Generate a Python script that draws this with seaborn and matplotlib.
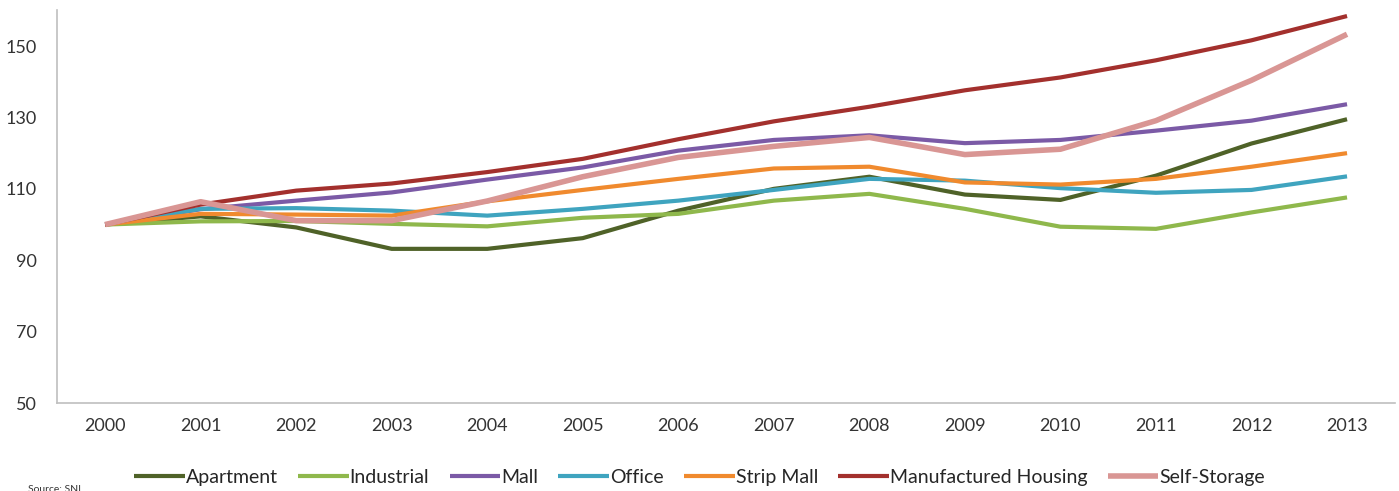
import numpy as np
import pandas as pd
import matplotlib
matplotlib.use("Agg")
import matplotlib.pyplot as plt
import seaborn as sns

#----------------------------------
# Data (index, 2000 = 100)
#----------------------------------
years = [2000, 2001, 2002, 2003, 2004, 2005, 2006, 2007, 2008, 2009, 2010, 2011, 2012, 2013]

apartment = [100, 102.3, 99.2, 93.2, 93.2, 96.2, 103.9, 110.0, 113.4, 108.4, 106.9, 113.7, 122.7, 129.5]
industrial = [100, 100.9, 101.0, 100.2, 99.5, 101.9, 103.0, 106.7, 108.6, 104.4, 99.4, 98.8, 103.4, 107.6]
mall = [100, 104.3, 106.7, 109.0, 112.6, 116.0, 120.7, 123.7, 125.0, 122.8, 123.7, 126.3, 129.1, 133.7]
office = [100, 104.4, 104.6, 103.9, 102.5, 104.4, 106.7, 109.7, 112.8, 112.3, 110.2, 108.9, 109.7, 113.5]
strip_mall = [100, 103.0, 102.8, 102.5, 106.5, 109.7, 112.8, 115.7, 116.2, 111.8, 111.2, 112.8, 116.2, 120.0]
manufactured = [100, 105.6, 109.5, 111.5, 114.7, 118.4, 123.9, 128.9, 133.0, 137.6, 141.2, 146.0, 151.6, 158.4]
self_storage = [100, 106.4, 101.1, 101.1, 106.6, 113.4, 118.8, 121.9, 124.4, 119.6, 121.1, 129.1, 140.4, 153.3]

series_names = ["Apartment", "Industrial", "Mall", "Office", "Strip Mall",
                "Manufactured Housing", "Self-Storage"]
series_values = [apartment, industrial, mall, office, strip_mall, manufactured, self_storage]
colors = ["#4F6228", "#8FB84C", "#7B5AA6", "#3FA4BF", "#F08A2E", "#A3302D", "#D99694"]

rows = []
for name, vals in zip(series_names, series_values):
    for i, v in enumerate(vals):
        rows.append({"pos": i, "year": years[i], "type": name, "value": v})
df = pd.DataFrame(rows)

#----------------------------------
# Plot
#----------------------------------
sns.set_style("white")
plt.rcParams['font.family'] = ['Lato', 'DejaVu Sans']

fig = plt.figure(figsize=(13.99, 4.91), dpi=100)
ax = fig.add_axes([0.041, 0.179, 0.956, 0.800])

sns.lineplot(data=df, x="pos", y="value", hue="type", hue_order=series_names,
             palette=dict(zip(series_names, colors)), linewidth=3.0,
             legend=False, ax=ax)

# self-storage line is drawn a bit heavier
for line, name in zip(ax.get_lines(), series_names):
    if name == "Self-Storage":
        line.set_linewidth(4.0)
    line.set_solid_capstyle("butt")

ax.set_xlim(-0.5, len(years) - 0.5)
ax.set_ylim(50, 160)
ax.set_xticks(range(len(years)))
ax.set_xticklabels([str(y) for y in years])
ax.set_yticks([50, 70, 90, 110, 130, 150])
ax.set_xlabel("")
ax.set_ylabel("")
ax.tick_params(axis="both", length=0, labelsize=13, colors="#333333")
ax.tick_params(axis="x", pad=11)
ax.tick_params(axis="y", pad=15)

for s in ["top", "right"]:
    ax.spines[s].set_visible(False)
for s in ["left", "bottom"]:
    ax.spines[s].set_color("#BFBFBF")
    ax.spines[s].set_linewidth(1.2)

handles = ax.get_lines()[:len(series_names)]
fig.legend(handles, series_names, loc="center", bbox_to_anchor=(0.5, 0.027),
           ncol=7, frameon=False, fontsize=14, handlelength=2.6,
           handletextpad=0.05, columnspacing=1.05)

fig.text(28 / 1399, 0.004, "Source: SNL", fontsize=7.5, color="#333333",
         va="center", ha="left")

fig.savefig("out.png", dpi=100)
